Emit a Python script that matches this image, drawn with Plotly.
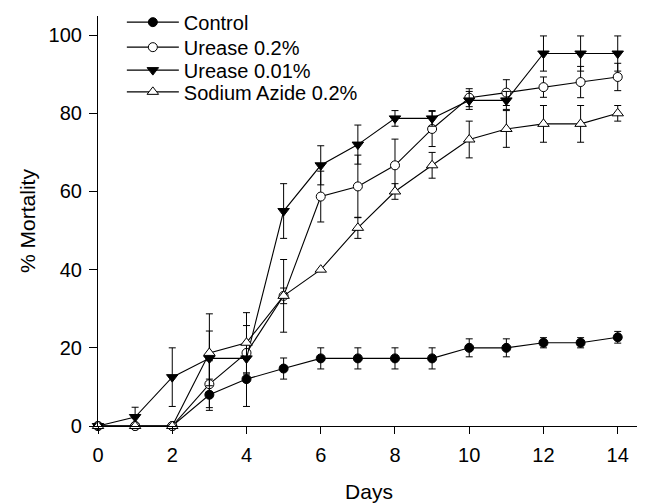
import plotly.graph_objects as go

days = list(range(15))

control = [0, 0, 0, 8, 12, 14.7, 17.3, 17.3, 17.3, 17.3, 20, 20, 21.3, 21.3, 22.7]
control_err = [0, 0, 0, 4, 7, 2.7, 2.7, 2.7, 2.7, 2.7, 2.3, 2.3, 1.3, 1.3, 1.5]

urease_02 = [0, 0, 0, 10.7, 18.7, 33.3, 58.7, 61.3, 66.7, 76, 84, 85.3, 86.7, 88, 89.3]
urease_02_err = [0, 0, 0, 6, 7, 2, 6.5, 8, 6.7, 4.5, 2.3, 3.3, 2.6, 4, 3.5]

urease_001 = [0, 2.3, 12.5, 17.3, 17.3, 55, 66.7, 72, 78.7, 78.7, 83.3, 83.3, 95.3, 95.3, 95.3]
urease_001_err = [0, 2.5, 7.5, 7, 4, 7, 5, 5, 2, 2, 2.3, 2.3, 4.5, 4.5, 4.5]

azide = [0, 0, 0, 18.7, 21.3, 33.3, 40, 50.7, 60, 66.7, 73.3, 76, 77.3, 77.3, 80]
azide_err = [0, 0, 0, 10, 7.7, 9.3, 0, 2.7, 2, 3.3, 4.7, 4.7, 4.7, 4.7, 2]

series = [
    ("Control", control, control_err, "circle", "black", 9),
    ("Urease 0.2%", urease_02, urease_02_err, "circle", "white", 9),
    ("Urease 0.01%", urease_001, urease_001_err, "triangle-down", "black", 10),
    ("Sodium Azide 0.2%", azide, azide_err, "triangle-up", "white", 10),
]

legend_names = ["legend", "legend2", "legend3", "legend4"]
legend_y = [0.985, 0.924, 0.868, 0.815]

fig = go.Figure()
for (name, vals, errs, sym, fill, size), lg in zip(series, legend_names):
    fig.add_trace(go.Scatter(
        x=days, y=vals, name=name, mode="lines+markers", legend=lg,
        line=dict(color="black", width=1.1),
        marker=dict(symbol=sym, size=size, color=fill, line=dict(color="black", width=1)),
        error_y=dict(type="data", array=errs, visible=True, color="black", thickness=1, width=3.5),
        cliponaxis=False,
    ))

font = "Liberation Sans, Arial, sans-serif"
legend_layout = {}
for lg, ly in zip(legend_names, legend_y):
    legend_layout[lg] = dict(x=0.044, y=ly, xanchor="left", yanchor="middle",
                             bgcolor="rgba(0,0,0,0)", font=dict(size=20),
                             itemwidth=52)

fig.update_layout(
    width=637, height=495,
    margin=dict(l=90, r=5, t=8, b=77, autoexpand=False),
    paper_bgcolor="white", plot_bgcolor="white",
    font=dict(family=font, size=20, color="black"),
    showlegend=True,
    xaxis=dict(range=[0, 14.6], tickvals=[0, 2, 4, 6, 8, 10, 12, 14],
               showline=True, linecolor="black", linewidth=1.2, ticks="outside",
               ticklen=7, tickcolor="black", showgrid=False, zeroline=False,
               automargin=False, ticklabelstandoff=4,
               title=dict(text="Days", font=dict(size=21), standoff=20)),
    yaxis=dict(range=[0, 104.9], tickvals=[0, 20, 40, 60, 80, 100],
               showline=True, linecolor="black", linewidth=1.2, ticks="outside",
               ticklen=8, tickcolor="black", showgrid=False, zeroline=False,
               automargin=False, ticklabelstandoff=3,
               title=dict(text="% Mortality", font=dict(size=21), standoff=7)),
    **legend_layout,
)

fig.write_html("out.html")
